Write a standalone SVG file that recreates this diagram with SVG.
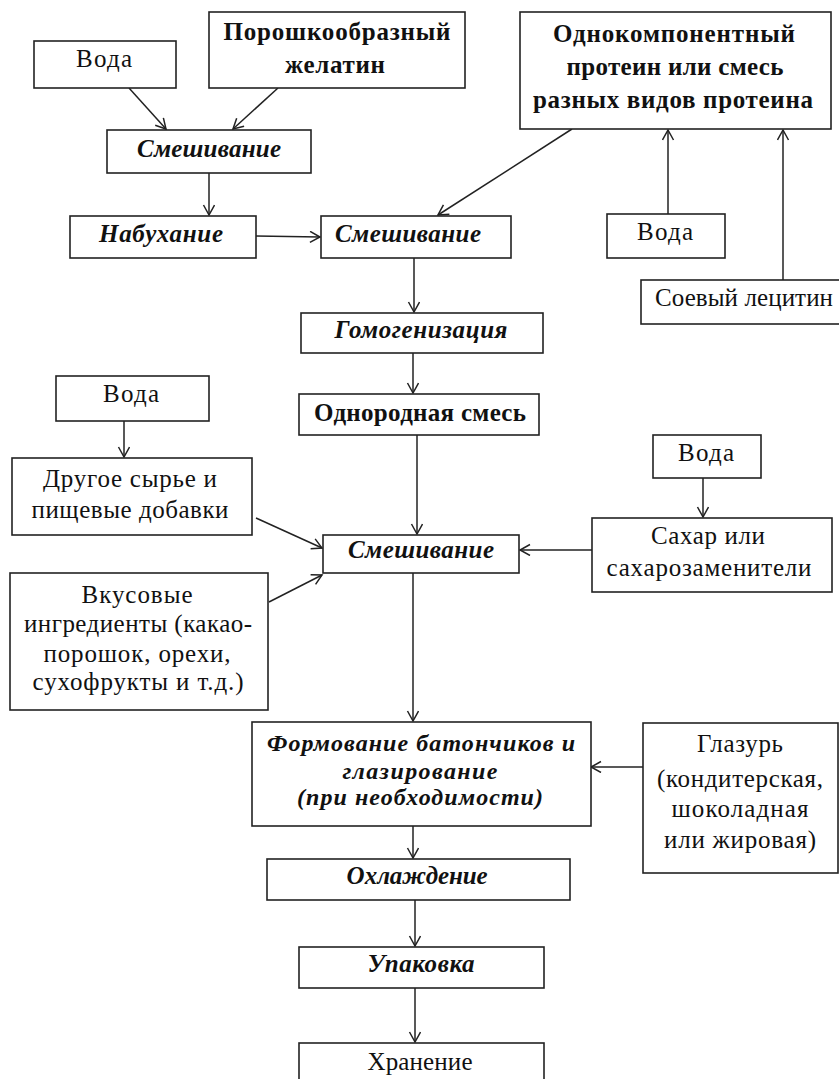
<svg xmlns="http://www.w3.org/2000/svg" width="839" height="1079" viewBox="0 0 839 1079">
<style>
rect{fill:#fff;stroke:#222;stroke-width:1.6}
text{font-family:"Liberation Serif","Times New Roman",serif;font-size:25px;fill:#111;text-anchor:middle}
.b{font-weight:bold}
.bi{font-weight:bold;font-style:italic}
.s{font-size:24px}
.c line{stroke:#222;stroke-width:1.5;marker-end:url(#ah)}
</style>
<defs>
<marker id="ah" markerUnits="userSpaceOnUse" markerWidth="14" markerHeight="14" refX="11" refY="6" orient="auto">
<path d="M1,0.5 L11,6 L1,11.5" fill="none" stroke="#222" stroke-width="1.5"/>
</marker>
</defs>
<rect x="0" y="0" width="839" height="1079" style="stroke:none;fill:#fff"/>
<g class="c" id="connectors">
<line x1="129" y1="88" x2="166" y2="129"/>
<line x1="278" y1="88" x2="233" y2="129"/>
<line x1="209" y1="173" x2="209" y2="215"/>
<line x1="256" y1="236" x2="320" y2="237"/>
<line x1="572" y1="129" x2="438" y2="215"/>
<line x1="668" y1="214" x2="668" y2="130"/>
<line x1="783" y1="280" x2="783" y2="130"/>
<line x1="414" y1="258" x2="414" y2="312"/>
<line x1="413" y1="353" x2="413" y2="393"/>
<line x1="417" y1="435" x2="417" y2="534"/>
<line x1="124" y1="421" x2="124" y2="457"/>
<line x1="256" y1="518" x2="322" y2="548"/>
<line x1="269" y1="602" x2="322" y2="575"/>
<line x1="592" y1="550" x2="520" y2="550"/>
<line x1="703" y1="478" x2="703" y2="517"/>
<line x1="413" y1="573" x2="413" y2="721"/>
<line x1="643" y1="767" x2="591" y2="767"/>
<line x1="413" y1="826" x2="413" y2="858"/>
<line x1="415" y1="900" x2="415" y2="946"/>
<line x1="415" y1="988" x2="415" y2="1042"/>
</g>
<g id="voda1"><rect x="34" y="41" width="142" height="47"/><text x="104" y="67" textLength="56">Вода</text></g>
<g id="zhelatin"><rect x="209" y="12" width="256" height="76"/><text class="b" x="337" y="40" textLength="227">Порошкообразный</text><text class="b" x="335" y="73" textLength="100">желатин</text></g>
<g id="smesh1"><rect x="107" y="130" width="204" height="43"/><text class="bi" x="209" y="157" textLength="144">Смешивание</text></g>
<g id="nabukhanie"><rect x="70" y="216" width="186" height="42"/><text class="bi" x="161" y="242" textLength="124">Набухание</text></g>
<g id="smesh2"><rect x="321" y="216" width="190" height="42"/><text class="bi" x="408" y="242" textLength="146">Смешивание</text></g>
<g id="protein"><rect x="520" y="12" width="311" height="117"/><text class="b" x="674" y="42" textLength="242">Однокомпонентный</text><text class="b" x="675" y="75" textLength="217">протеин или смесь</text><text class="b" x="673" y="108" textLength="280">разных видов протеина</text></g>
<g id="voda2"><rect x="607" y="214" width="118" height="44"/><text x="665" y="240" textLength="56">Вода</text></g>
<g id="lecitin"><rect x="641" y="280" width="200" height="44"/><text x="744" y="306" textLength="178">Соевый лецитин</text></g>
<g id="gomogen"><rect x="301" y="313" width="242" height="40"/><text class="bi" x="421" y="338" textLength="173">Гомогенизация</text></g>
<g id="odnorodnaya"><rect x="299" y="394" width="240" height="41"/><text class="b" x="420" y="421" textLength="212">Однородная смесь</text></g>
<g id="voda3"><rect x="56" y="376" width="153" height="45"/><text x="131" y="402" textLength="56">Вода</text></g>
<g id="drugoe"><rect x="12" y="458" width="240" height="77"/><text x="130" y="487" textLength="174">Другое сырье и</text><text x="130" y="518" textLength="197">пищевые добавки</text></g>
<g id="smesh3"><rect x="323" y="535" width="196" height="38"/><text class="bi" x="421" y="558" textLength="146">Смешивание</text></g>
<g id="vkusovye"><rect x="10" y="573" width="258" height="137"/><text x="137" y="603" textLength="111">Вкусовые</text><text x="138" y="632" textLength="228">ингредиенты (какао-</text><text x="137" y="662" textLength="187">порошок, орехи,</text><text x="138" y="690" textLength="211">сухофрукты и т.д.)</text></g>
<g id="voda4"><rect x="653" y="435" width="108" height="43"/><text x="706" y="461" textLength="56">Вода</text></g>
<g id="sakhar"><rect x="592" y="518" width="240" height="74"/><text x="708" y="544" textLength="114">Сахар или</text><text x="709" y="576" textLength="205">сахарозаменители</text></g>
<g id="formovanie"><rect x="252" y="722" width="339" height="104"/><text class="bi s" x="421" y="751" textLength="308">Формование батончиков и</text><text class="bi s" x="420" y="779" textLength="155">глазирование</text><text class="bi s" x="420" y="805" textLength="246">(при необходимости)</text></g>
<g id="glazur"><rect x="643" y="723" width="195" height="150"/><text x="740" y="752" textLength="86">Глазурь</text><text x="740" y="787" textLength="166">(кондитерская,</text><text x="740" y="817" textLength="137">шоколадная</text><text x="740" y="848" textLength="152">или жировая)</text></g>
<g id="okhlazhdenie"><rect x="267" y="859" width="303" height="41"/><text class="bi" x="417" y="884" textLength="141">Охлаждение</text></g>
<g id="upakovka"><rect x="299" y="947" width="245" height="41"/><text class="bi" x="421" y="972" textLength="107">Упаковка</text></g>
<g id="khranenie"><rect x="299" y="1043" width="245" height="50"/><text x="420" y="1070" textLength="105">Хранение</text></g>
</svg>
